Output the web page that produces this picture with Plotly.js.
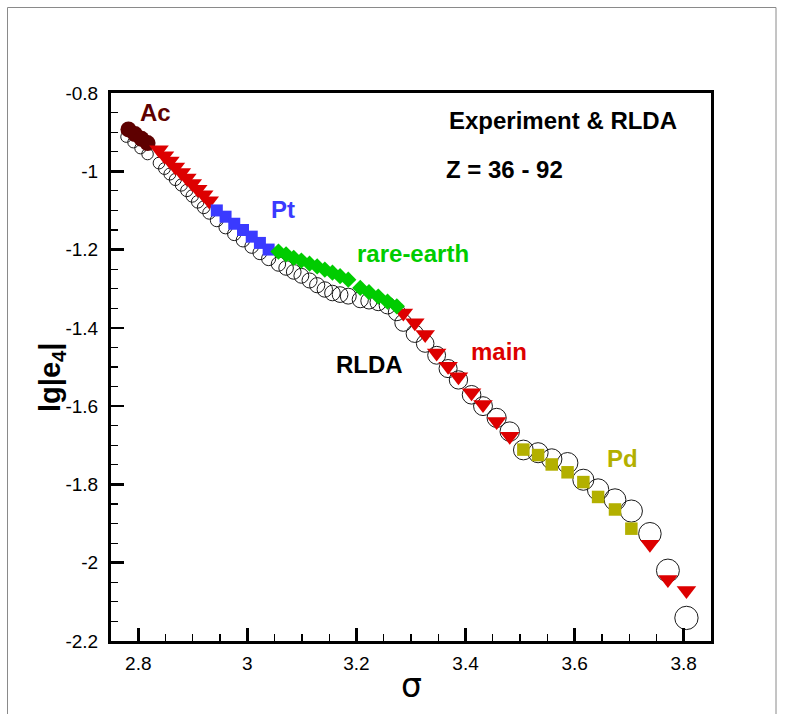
<!DOCTYPE html>
<html>
<head>
<meta charset="utf-8">
<script src="https://cdn.plot.ly/plotly-3.0.1.min.js"></script>
<style>
  html, body { margin: 0; padding: 0; background: #fff; }
  #plot { width: 794px; height: 714px; }
</style>
</head>
<body>
<div id="plot"></div>
<script>
// ---- data ----
const acSigma = [2.782, 2.794, 2.806, 2.817];
const acLg    = [-0.893, -0.905, -0.917, -0.928];

const mainSigma = [2.838, 2.848, 2.858, 2.868, 2.879, 2.889, 2.899, 2.909, 2.920, 2.930,
                   3.286, 3.307, 3.326, 3.347, 3.368, 3.387, 3.411, 3.432, 3.457, 3.481,
                   3.738, 3.771, 3.805];
const mainLg    = [-0.945, -0.960, -0.974, -0.989, -1.003, -1.017, -1.031, -1.046, -1.060, -1.075,
                   -1.362, -1.387, -1.417, -1.464, -1.498, -1.525, -1.566, -1.596, -1.639, -1.677,
                   -1.953, -2.043, -2.071];

const ptSigma = [2.944, 2.960, 2.976, 2.992, 3.008, 3.023, 3.039];
const ptLg    = [-1.100, -1.116, -1.134, -1.150, -1.167, -1.183, -1.200];

const reSigma = [3.057, 3.071, 3.085, 3.099, 3.114, 3.128, 3.142, 3.156, 3.170, 3.185,
                 3.207, 3.223, 3.240, 3.257, 3.274];
const reLg    = [-1.205, -1.212, -1.221, -1.228, -1.236, -1.243, -1.251, -1.259, -1.268, -1.277,
                 -1.298, -1.309, -1.320, -1.333, -1.345];

const pdSigma = [3.506, 3.533, 3.558, 3.587, 3.616, 3.643, 3.674, 3.704];
const pdLg    = [-1.711, -1.725, -1.749, -1.769, -1.794, -1.832, -1.864, -1.913];

const rldaSigma = [2.778, 2.791, 2.804, 2.817,
  2.838, 2.848, 2.858, 2.868, 2.879, 2.889, 2.899, 2.909, 2.920, 2.930,
  2.944, 2.960, 2.976, 2.992, 3.008, 3.023, 3.039,
  3.057, 3.071, 3.085, 3.099, 3.114, 3.128, 3.142, 3.156, 3.170, 3.185, 3.207, 3.223, 3.240, 3.257, 3.274,
  3.286, 3.307, 3.326, 3.347, 3.368, 3.387, 3.411, 3.432, 3.457, 3.481,
  3.506, 3.533, 3.558, 3.587, 3.616, 3.643, 3.674, 3.704,
  3.738, 3.771, 3.805];
const rldaLg = [-0.912, -0.926, -0.941, -0.956,
  -0.979, -0.993, -1.007, -1.021, -1.035, -1.049, -1.063, -1.078, -1.092, -1.106,
  -1.125, -1.143, -1.160, -1.176, -1.192, -1.208, -1.223,
  -1.237, -1.247, -1.257, -1.267, -1.279, -1.291, -1.302, -1.311, -1.315, -1.319, -1.328, -1.331, -1.335, -1.343, -1.360,
  -1.387, -1.415, -1.440, -1.470, -1.504, -1.533, -1.571, -1.600, -1.630, -1.665,
  -1.712, -1.719, -1.735, -1.745, -1.788, -1.813, -1.839, -1.868,
  -1.926, -2.020, -2.141];

const xTickVals = [2.8, 3.0, 3.2, 3.4, 3.6, 3.8];
const xTickText = ['2.8', '3', '3.2', '3.4', '3.6', '3.8'];
const yTickVals = [-0.8, -1.0, -1.2, -1.4, -1.6, -1.8, -2.0, -2.2];
const yTickText = ['-0.8', '-1', '-1.2', '-1.4', '-1.6', '-1.8', '-2', '-2.2'];

// ---- colours ----
const cAc = '#5e0000', cMain = '#dd0000', cPt = '#3a3aff', cRe = '#00cc00', cPd = '#b3b000';

// marker size grows with sigma in the reference
const grow = (s, a, b) => s.map(v => a + (v - 2.776) * b);

const traces = [
  { x: rldaSigma, y: rldaLg, type: 'scatter', mode: 'markers', name: 'RLDA',
    marker: { symbol: 'circle-open', size: grow(rldaSigma, 11, 12), opacity: 1, color: '#1a1a1a', line: { width: 1, color: '#1a1a1a' } } },
  { x: acSigma, y: acLg, type: 'scatter', mode: 'markers', name: 'Ac',
    marker: { symbol: 'circle', size: 16, opacity: 1, color: cAc } },
  { x: mainSigma, y: mainLg, type: 'scatter', mode: 'markers', name: 'main',
    marker: { symbol: 'triangle-down', size: 17, opacity: 1, color: cMain, line: { width: 0 } } },
  { x: ptSigma, y: ptLg, type: 'scatter', mode: 'markers', name: 'Pt',
    marker: { symbol: 'square', size: 12, opacity: 1, color: cPt } },
  { x: reSigma, y: reLg, type: 'scatter', mode: 'markers', name: 'rare-earth',
    marker: { symbol: 'diamond', size: 12.5, opacity: 1, color: cRe } },
  { x: pdSigma, y: pdLg, type: 'scatter', mode: 'markers', name: 'Pd',
    marker: { symbol: 'square', size: 12.5, opacity: 1, color: cPd } }
];

const lab = (text, x, y, color, size) => ({
  text: text, x: x, y: y, xref: 'x', yref: 'y', showarrow: false,
  xanchor: 'center', yanchor: 'middle',
  font: { family: 'Liberation Sans, Arial, sans-serif', size: size || 24, color: color }
});

const layout = {
  width: 794, height: 714,
  margin: { l: 111, r: 83, t: 93, b: 73 },
  paper_bgcolor: '#fff', plot_bgcolor: '#fff',
  showlegend: false,
  font: { family: 'Liberation Sans, Arial, sans-serif', color: '#000' },
  xaxis: {
    range: [2.75, 3.85], showgrid: false, zeroline: false,
    showline: true, linecolor: '#000', linewidth: 3, mirror: true,
    ticks: 'inside', ticklen: 13, tickwidth: 2.5, tickcolor: '#000',
    tickvals: xTickVals, ticktext: xTickText,
    tickfont: { family: 'Liberation Sans Narrow, Liberation Sans, Arial, sans-serif', size: 19, color: '#000' },
    ticklabelstandoff: 3,
    minor: { ticks: 'inside', ticklen: 7, tickwidth: 1.2, tickcolor: '#000', dtick: 0.05, tick0: 2.8, showgrid: false }
  },
  yaxis: {
    range: [-2.2, -0.8], showgrid: false, zeroline: false,
    showline: true, linecolor: '#000', linewidth: 3, mirror: true,
    ticks: 'inside', ticklen: 13, tickwidth: 2.5, tickcolor: '#000',
    tickvals: yTickVals, ticktext: yTickText,
    tickfont: { family: 'Liberation Sans Narrow, Liberation Sans, Arial, sans-serif', size: 19, color: '#000' },
    ticklabelstandoff: 6,
    minor: { ticks: 'inside', ticklen: 7, tickwidth: 1.2, tickcolor: '#000', dtick: 0.05, tick0: -0.8, showgrid: false }
  },
  annotations: [
    lab('<b>Ac</b>', 2.831, -0.850, cAc),
    lab('<b>Pt</b>', 3.066, -1.098, cPt),
    lab('<b>rare-earth</b>', 3.304, -1.210, cRe),
    lab('<b>main</b>', 3.461, -1.460, cMain),
    lab('<b>RLDA</b>', 3.223, -1.494, '#000'),
    lab('<b>Pd</b>', 3.687, -1.734, cPd),
    lab('<b>Experiment &amp; RLDA</b>', 3.578, -0.871, '#000'),
    lab('<b>Z = 36 - 92</b>', 3.472, -0.996, '#000'),
    // axis titles
    { text: 'σ', xref: 'paper', yref: 'paper', x: (411 - 111) / 600, y: (641 - 685) / 548,
      xanchor: 'center', yanchor: 'middle', showarrow: false,
      font: { family: 'DejaVu Sans, sans-serif', size: 33, color: '#000' } },
    { text: '<b>lg|e<sub>4</sub>|</b>', xref: 'paper', yref: 'paper', x: (52 - 111) / 600, y: (641 - 378) / 548,
      xanchor: 'center', yanchor: 'middle', showarrow: false, textangle: -90,
      font: { family: 'Liberation Sans, Arial, sans-serif', size: 29, color: '#000' } }
  ],
  shapes: [
    { type: 'rect', xref: 'paper', yref: 'paper',
      x0: (7.5 - 111) / 600, x1: (776 - 111) / 600,
      y0: (641 - 730) / 548, y1: (641 - 7.5) / 548,
      line: { color: '#8a8a8a', width: 1 }, layer: 'below' }
  ]
};

Plotly.newPlot('plot', traces, layout, { staticPlot: true, displayModeBar: false });
</script>
</body>
</html>
